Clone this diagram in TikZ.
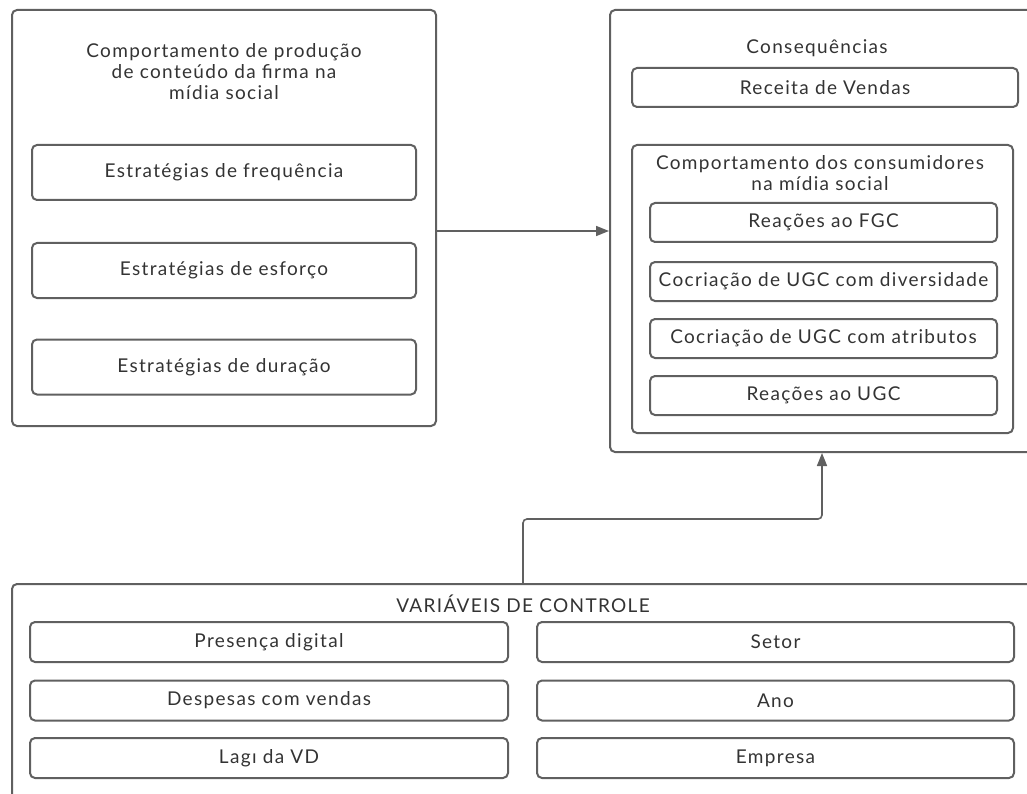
\documentclass[tikz,border=0pt]{standalone}
\usepackage{fontspec}
\setmainfont[LetterSpace=7]{Lato}
\usetikzlibrary{arrows.meta}
\definecolor{linegray}{HTML}{606060}
\definecolor{textgray}{HTML}{333333}

\begin{document}
\begin{tikzpicture}[x=1pt, y=-1pt,
		box/.style={draw=linegray, line width=2pt, rounded corners=5pt, inner sep=0pt},
		itembox/.style={box, minimum height=39pt, text=textgray, font=\fontsize{19}{20}\selectfont},
		heading/.style={align=center, text=textgray, font=\fontsize{19}{21}\selectfont},
		conn/.style={draw=linegray, line width=1.6pt, -{Triangle[length=13pt, width=10pt]}}]
		\useasboundingbox (0,0) rectangle (1027,794);
		\clip (0,0) rectangle (1027,794);

		\begin{scope}
			\node [box, minimum width=424pt, minimum height=416pt] (firma) at (224,218) {};
			\node [heading] (firmatitle) at (224,72) {Comportamento de produção\\de conteúdo da firma na\\mídia social};
			\node [itembox, minimum width=384pt, minimum height=55pt] (freq) at (224,172.5) {Estratégias de frequência};
			\node [itembox, minimum width=384pt, minimum height=55pt] (esforco) at (224,270.5) {Estratégias de esforço};
			\node [itembox, minimum width=384pt, minimum height=55pt] (duracao) at (224,367) {Estratégias de duração};
		\end{scope}

		\begin{scope}
			\node [box, minimum width=450pt, minimum height=442pt] (conseq) at (835,231) {};
			\node [heading] (conseqtitle) at (817,48) {Consequências};
			\node [itembox, minimum width=386pt] (receita) at (825,87.5) {Receita de Vendas};
			\node [box, minimum width=381pt, minimum height=288pt] (consum) at (822.5,289) {};
			\node [heading] (consumtitle) at (820,173) {Comportamento dos consumidores\\na mídia social};
			\node [itembox, minimum width=347pt] (fgc) at (823.5,222.5) {Reações ao FGC};
			\node [itembox, minimum width=347pt] (diversidade) at (823.5,281.5) {Cocriação de UGC com diversidade};
			\node [itembox, minimum width=347pt] (atributos) at (823.5,338.5) {Cocriação de UGC com atributos};
			\node [itembox, minimum width=347pt] (ugc) at (823.5,395.5) {Reações ao UGC};
		\end{scope}

		\begin{scope}
			\node [box, minimum width=1048pt, minimum height=256pt] (controle) at (536,712) {};
			\node [heading] (controletitle) at (523,604) {VARIÁVEIS DE CONTROLE};
			\node [itembox, minimum width=478pt, minimum height=40pt] (presenca) at (269,642) {Presença digital};
			\node [itembox, minimum width=478pt, minimum height=40pt] (despesas) at (269,700.5) {Despesas com vendas};
			\node [itembox, minimum width=478pt, minimum height=40pt] (lag) at (269,758) {Lagı da VD};
			\node [itembox, minimum width=477pt, minimum height=40pt] (setor) at (775.5,642) {Setor};
			\node [itembox, minimum width=477pt, minimum height=40pt] (ano) at (775.5,700.5) {Ano};
			\node [itembox, minimum width=477pt, minimum height=40pt] (empresa) at (775.5,758) {Empresa};
		\end{scope}

		\begin{scope}
			\coordinate (bendlow) at (523,519);
			\coordinate (bendhigh) at (822,519);
			\draw [conn] (firma.east |- conseq.west) -- (conseq.west);
			\draw [conn, rounded corners=4pt] (controle.north -| bendlow) -- (bendlow) -- (bendhigh) -- (conseq.south -| bendhigh);
		\end{scope}
	\end{tikzpicture}
\end{document}
